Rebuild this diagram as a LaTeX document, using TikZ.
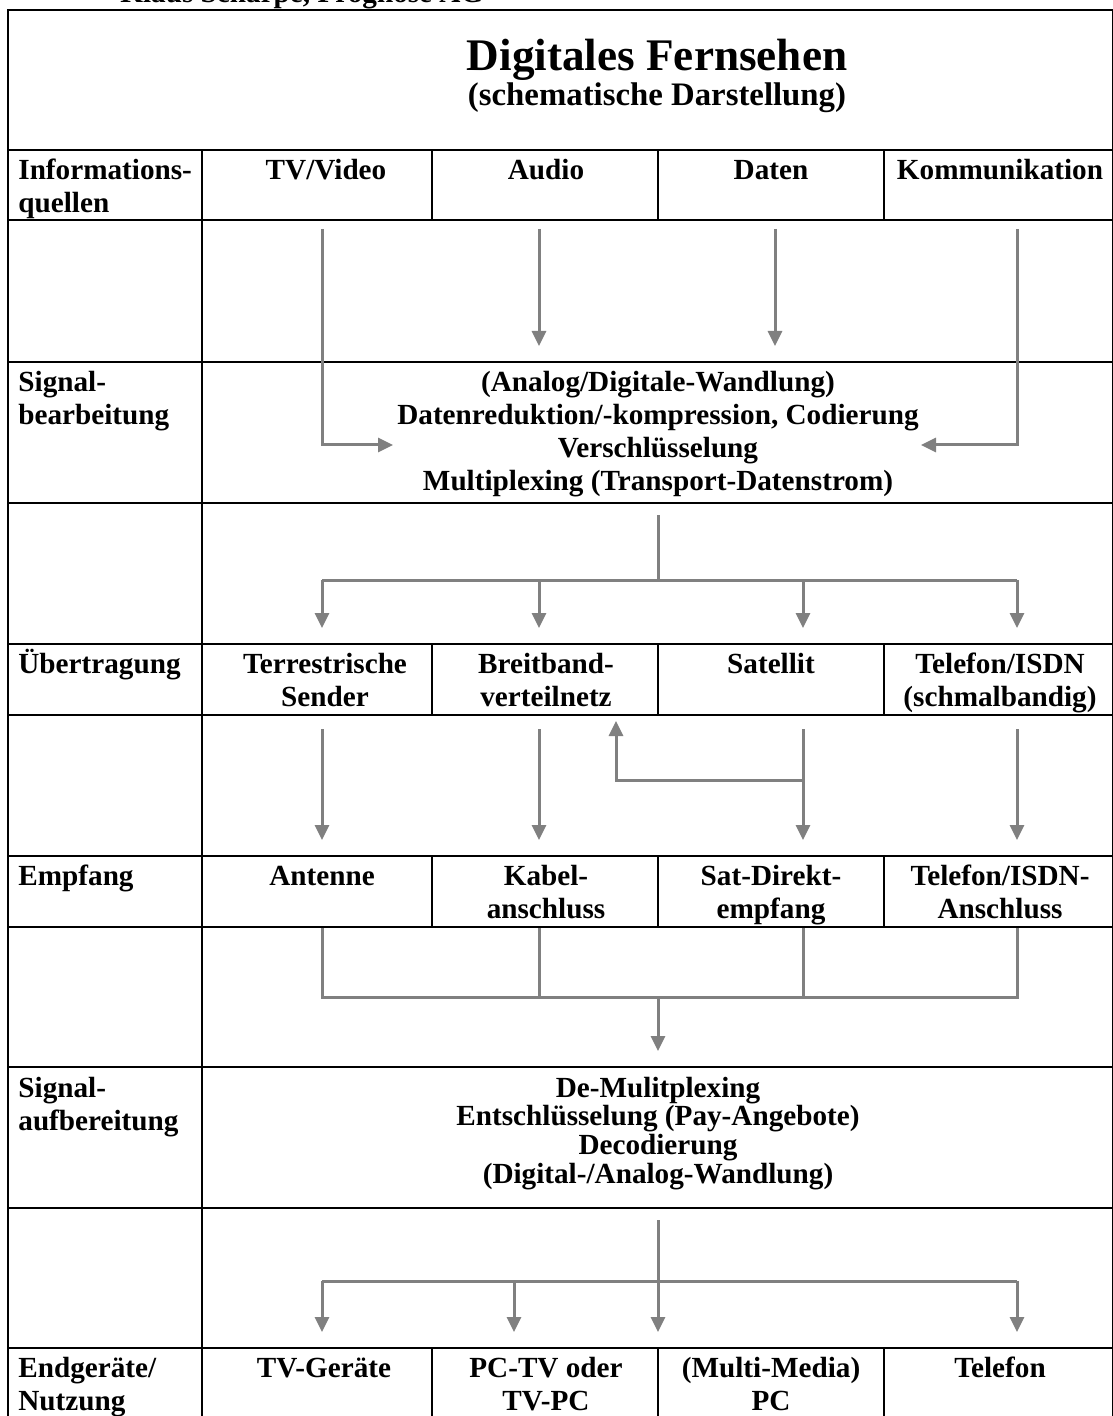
\documentclass[tikz,border=0pt]{standalone}
\usepackage{fontspec}
\setmainfont{Liberation Serif}
\usetikzlibrary{arrows.meta}

% multi-line cell text, baseline on the first line
\newcommand{\centerlines}[1]{\begin{tabular}[t]{@{}c@{}}#1\end{tabular}}
\newcommand{\leftlines}[1]{\begin{tabular}[t]{@{}l@{}}#1\end{tabular}}

\begin{document}
\begin{tikzpicture}[
  x=.5pt, y=-.5pt,
  >={Triangle[length=7.5pt,width=7pt]},
  grid/.style={line width=1.3pt, draw=black},
  feed/.style={line width=1.5pt, draw=arrowgray},
  flow/.style={feed, ->},
  cell/.style={anchor=base, inner sep=0pt,
    font=\fontsize{14.6}{16.5}\selectfont\bfseries},
  tightcell/.style={cell, font=\fontsize{14.6}{14.2}\selectfont\bfseries},
  rowlabel/.style={cell, anchor=base west},
  heading/.style={anchor=base, inner sep=0pt,
    font=\fontsize{22.6}{26}\selectfont\bfseries},
  subheading/.style={anchor=base, inner sep=0pt,
    font=\fontsize{16.4}{19}\selectfont\bfseries},
  byline/.style={anchor=base west, inner sep=0pt,
    font=\fontsize{14.6}{16.5}\selectfont\bfseries}
]

\definecolor{arrowgray}{RGB}{128,128,128}

\useasboundingbox (0,0) rectangle (1112,1416);
\fill[white] (0,0) rectangle (1112,1416);

\node[byline] (author) at (120,3) {Klaus Scharpe, Prognose AG};

% table frame
\draw[grid] (8,10) rectangle (1113,1419);
\foreach \y in {150,220,362,503,644,715,856,927,1067,1208,1348}
  \draw[grid] (8,\y) -- (1113,\y);
\draw[grid] (202,150) -- (202,1419);
\foreach \y/\h in {150/220,644/715,856/927,1348/1419}
  \foreach \x in {432,658,884}
    \draw[grid] (\x,\y) -- (\x,\h);

% title
\node[heading] (title) at (657,71) {Digitales Fernsehen};
\node[subheading] (subtitle) at (657,106) {(schematische Darstellung)};

% row labels
\node[rowlabel] (l-quellen) at (18,180) {\leftlines{Informations-\\quellen}};
\node[rowlabel] (l-bearb) at (18,392) {\leftlines{Signal-\\bearbeitung}};
\node[rowlabel] (l-uebertr) at (18,673) {Übertragung};
\node[rowlabel] (l-empf) at (18,885) {Empfang};
\node[rowlabel] (l-aufb) at (18,1097) {\leftlines{Signal-\\aufbereitung}};
\node[rowlabel] (l-nutz) at (18,1377) {\leftlines{Endgeräte/\\Nutzung}};

% Informationsquellen
\node[cell] (tv) at (326,180) {TV/Video};
\node[cell] (audio) at (546,180) {Audio};
\node[cell] (daten) at (771,180) {Daten};
\node[cell] (komm) at (1000,180) {Kommunikation};

% Signalbearbeitung
\node[cell] (bearb) at (658,392)
  {\centerlines{(Analog/Digitale-Wandlung)\\Datenreduktion/-kompression, Codierung\\Verschlüsselung\\Multiplexing (Transport-Datenstrom)}};

% Übertragung
\node[cell] (terr) at (325,673) {\centerlines{Terrestrische\\Sender}};
\node[cell] (breit) at (546,673) {\centerlines{Breitband-\\verteilnetz}};
\node[cell] (sat) at (771,673) {Satellit};
\node[cell] (isdn) at (1000,673) {\centerlines{Telefon/ISDN\\(schmalbandig)}};

% Empfang
\node[cell] (ant) at (322,885) {Antenne};
\node[cell] (kabel) at (546,885) {\centerlines{Kabel-\\anschluss}};
\node[cell] (direkt) at (771,885) {\centerlines{Sat-Direkt-\\empfang}};
\node[cell] (isdnan) at (1000,885) {\centerlines{Telefon/ISDN-\\Anschluss}};

% Signalaufbereitung
\node[tightcell] (aufb) at (658,1097)
  {\centerlines{De-Mulitplexing\\Entschlüsselung (Pay-Angebote)\\Decodierung\\(Digital-/Analog-Wandlung)}};

% Endgeräte
\node[cell] (tvg) at (324,1377) {TV-Geräte};
\node[cell] (pctv) at (546,1377) {\centerlines{PC-TV oder\\TV-PC}};
\node[cell] (mmpc) at (771,1377) {\centerlines{(Multi-Media)\\PC}};
\node[cell] (tel) at (1000,1377) {Telefon};

% sources -> Signalbearbeitung
\foreach \n/\x in {tv/322,audio/539,daten/775,komm/1017}
  \coordinate (src-\n) at (\x,229);
\coordinate (codeL) at (393,445);
\coordinate (codeR) at (921,445);
\coordinate (codeT) at (658,346);
\draw[flow] (src-tv) |- (codeL);
\draw[flow] (src-komm) |- (codeR);
\draw[flow] (src-audio) -- (src-audio |- codeT);
\draw[flow] (src-daten) -- (src-daten |- codeT);

% Signalbearbeitung -> Übertragung
\coordinate (muxout) at (658,515);
\coordinate (muxbus) at (658,580);
\foreach \n/\x in {ter/322,kab/539,sat/803,tel/1017}
  \coordinate (tx-\n) at (\x,628);
\draw[feed] (muxout) -- (muxbus);
\draw[feed] (tx-ter |- muxbus) -- (tx-tel |- muxbus);
\foreach \n in {ter,kab,sat,tel}
  \draw[flow] (tx-\n |- muxbus) -- (tx-\n);

% Übertragung -> Empfang, Satellit also feeds the Breitbandnetz
\foreach \n/\x in {ter/322,kab/539,sat/803,tel/1017}{
  \coordinate (up-\n) at (\x,729);
  \coordinate (rx-\n) at (\x,840);
}
\coordinate (satfeed) at (616,780);
\coordinate (bbin) at (616,721);
\foreach \n in {ter,kab,sat,tel}
  \draw[flow] (up-\n) -- (rx-\n);
\draw[flow] (up-sat |- satfeed) -| (bbin);

% Empfang -> Signalaufbereitung
\foreach \n/\x in {ant/322,kab/539,sat/803,tel/1017}
  \coordinate (e-\n) at (\x,928);
\coordinate (demux) at (658,997);
\coordinate (demuxin) at (658,1051);
\draw[feed] (e-ant) -- (e-ant |- demux) -- (e-tel |- demux) -- (e-tel);
\draw[feed] (e-kab) -- (e-kab |- demux);
\draw[feed] (e-sat) -- (e-sat |- demux);
\draw[flow] (demux) -- (demuxin);

% Signalaufbereitung -> Endgeräte
\coordinate (decout) at (658,1220);
\coordinate (decbus) at (658,1281);
\foreach \n/\x in {tv/322,pc/514,mm/658,tel/1017}
  \coordinate (end-\n) at (\x,1332);
\draw[feed] (decout) -- (decbus);
\draw[feed] (end-tv |- decbus) -- (end-tel |- decbus);
\foreach \n in {tv,pc,mm,tel}
  \draw[flow] (end-\n |- decbus) -- (end-\n);

\end{tikzpicture}
\end{document}
